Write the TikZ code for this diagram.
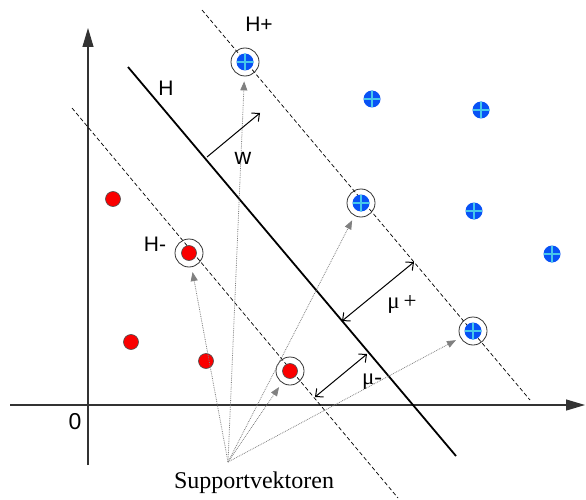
\documentclass[tikz,border=0pt]{standalone}
\usepackage{fontspec}
\setmainfont{Liberation Serif}
\setsansfont{Liberation Sans}
\usetikzlibrary{arrows.meta}
\definecolor{dotblue}{RGB}{8,82,245}
\definecolor{crosscyan}{RGB}{70,200,235}
\definecolor{dotred}{RGB}{250,0,0}
\tikzset{
  axis/.style={line width=1.2pt, black!80, -{Triangle[length=19pt,width=11pt]}},
  hyperplane/.style={line width=1.8pt},
  marginline/.style={dash pattern=on 4pt off 2.5pt, line width=0.7pt},
  redpt/.style={circle, draw=black!70, fill=dotred, minimum size=15pt, inner sep=0pt, line width=0.6pt},
  bluept/.style={circle, fill=dotblue, minimum size=17pt, inner sep=0pt,
    path picture={\draw[crosscyan, line width=1.1pt]
      (path picture bounding box.north) -- (path picture bounding box.south)
      (path picture bounding box.west) -- (path picture bounding box.east);}},
  svring/.style={circle, draw=black!80, minimum size=28pt, inner sep=0pt, line width=0.8pt},
  pointer/.style={densely dotted, black!50, line width=0.8pt, -{Triangle[length=9pt,width=7pt]}, shorten >=5pt},
  normalarrow/.style={line width=1pt, -{Straight Barb[length=6pt,width=11pt]}},
  marginarrow/.style={line width=1pt, {Straight Barb[length=6pt,width=11pt]}-{Straight Barb[length=6pt,width=11pt]}},
  sanslabel/.style={font=\sffamily\fontsize{21}{25}\selectfont, inner sep=0pt},
  seriflabel/.style={font=\fontsize{23}{27}\selectfont, inner sep=0pt}
}

\begin{document}
\begin{tikzpicture}[x=1pt, y=-1pt]
  \useasboundingbox (0,0) rectangle (586,500);
  % axes
  \coordinate (ybot) at (88,465);
  \coordinate (ytop) at (88,28);
  \coordinate (xleft) at (10,405);
  \coordinate (xright) at (585,405);
  \draw[axis] (ybot) -- (ytop);
  \draw[axis] (xleft) -- (xright);
  \node[sanslabel, font=\sffamily\fontsize{23}{27}\selectfont] (origin) at (75,422) {0};

  % separating plane and margins
  \coordinate (hstart) at (128,67);
  \coordinate (hend) at (456,456);
  \coordinate (hpstart) at (202,10);
  \coordinate (hpend) at (530,400);
  \coordinate (hmstart) at (72,108);
  \coordinate (hmend) at (398,498);
  \draw[hyperplane] (hstart) -- (hend);
  \draw[marginline] (hpstart) -- (hpend);
  \draw[marginline] (hmstart) -- (hmend);
  \node[sanslabel] (hlab) at (166,88) {H};
  \node[sanslabel] (hplab) at (259,24) {H+};
  \node[sanslabel] (hmlab) at (155,244) {H-};

  % class -1
  \node[redpt] (r1) at (113,199) {};
  \node[redpt] (r2) at (131,342) {};
  \node[redpt] (r3) at (206,361) {};
  \node[redpt] (r4) at (189,253) {};
  \node[redpt] (r5) at (290,371) {};
  % class +1
  \node[bluept] (b1) at (372,99) {};
  \node[bluept] (b2) at (481,110) {};
  \node[bluept] (b3) at (474,211) {};
  \node[bluept] (b4) at (552,254) {};
  \node[bluept] (b5) at (245,62) {};
  \node[bluept] (b6) at (361,203) {};
  \node[bluept] (b7) at (473,331) {};
  % support vectors
  \node[svring] (sv1) at (r4) {};
  \node[svring] (sv2) at (r5) {};
  \node[svring] (sv3) at (b5) {};
  \node[svring] (sv4) at (b6) {};
  \node[svring] (sv5) at (b7) {};

  \coordinate (svsrc) at (228,462);
  \node[font=\fontsize{24}{28}\selectfont, inner sep=0pt, anchor=base] (svlab) at (254,488) {Supportvektoren};
  \foreach \s in {sv1,sv2,sv3,sv4,sv5}
    \draw[pointer] (svsrc) -- (\s);

  % normal vector and margins
  \coordinate (wstart) at (207,157);
  \coordinate (wend) at (260,113);
  \draw[normalarrow] (wstart) -- (wend);
  \node[sanslabel, font=\sffamily\fontsize{23}{27}\selectfont] (wlab) at (243,158) {w};
  \coordinate (mpa) at (342,321);
  \coordinate (mpb) at (414,262);
  \coordinate (mma) at (315,397);
  \coordinate (mmb) at (367,354);
  \draw[marginarrow] (mpa) -- (mpb);
  \draw[marginarrow] (mma) -- (mmb);
  \node[seriflabel] (mplab) at (402,304) {μ\,+};
  \node[seriflabel] (mmlab) at (372,382) {μ-};
\end{tikzpicture}
\end{document}
